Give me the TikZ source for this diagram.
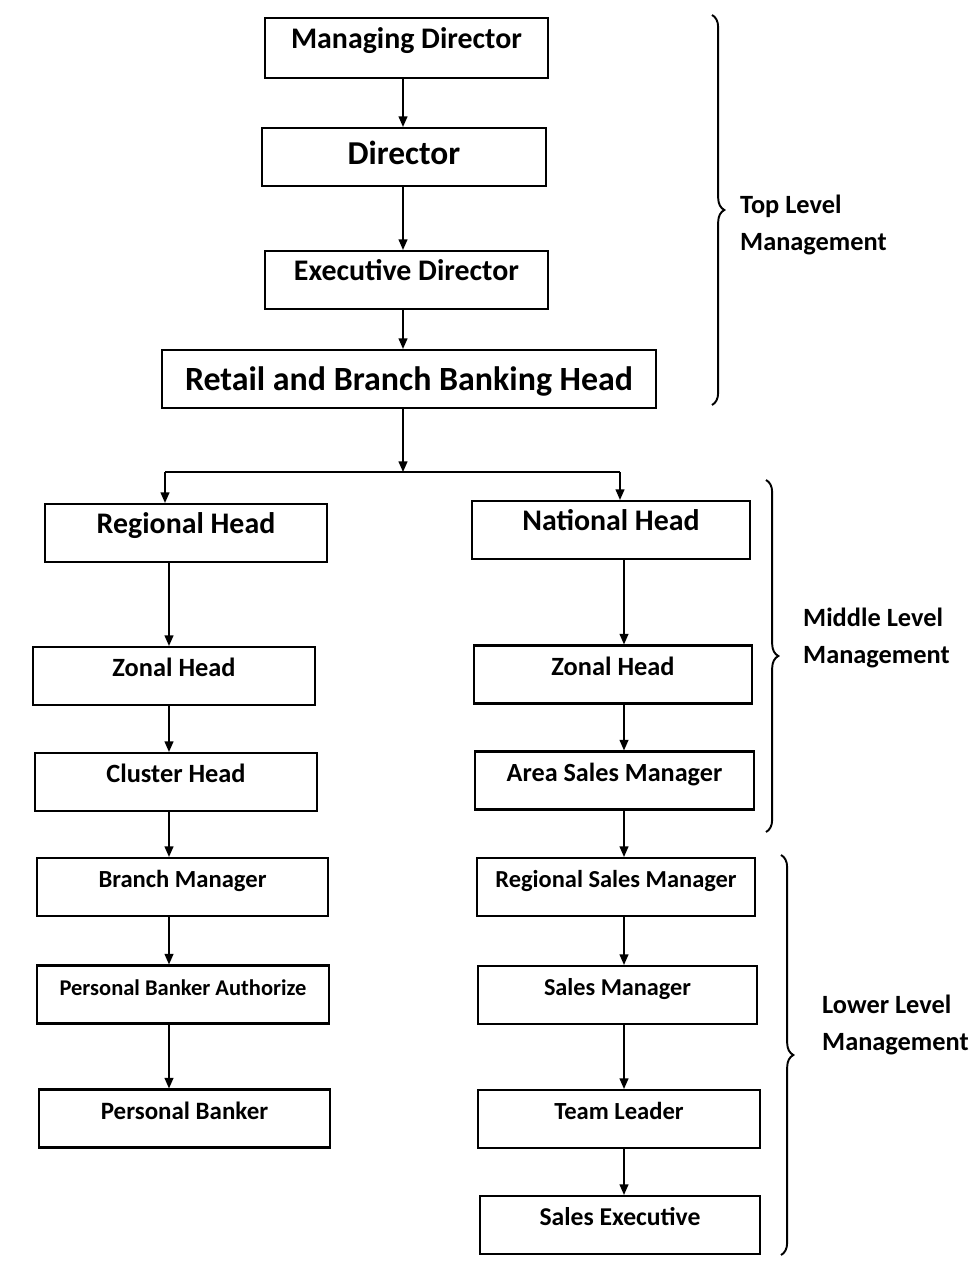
\documentclass[tikz,border=0pt]{standalone}
\usepackage{fontspec}
\setmainfont{Carlito}
\usepackage{tikz}
\usetikzlibrary{arrows.meta}
\usetikzlibrary{decorations.pathreplacing}

\newcommand{\boxfont}[1]{\fontsize{#1}{#1}\selectfont\bfseries}

\tikzset{
  post/.style={draw, line width=1.2pt, inner sep=0pt, minimum height=33pt,
    text height=17pt, text depth=16pt},
  link/.style={line width=0.9pt, -{Triangle[length=6pt,width=5pt]}},
  bar/.style={line width=1.6pt},
  levelbrace/.style={decorate, decoration={brace, amplitude=7pt}, line width=1.1pt},
  levelname/.style={anchor=west, align=left, font=\fontsize{15}{21.5}\selectfont\bfseries}
}

\begin{document}
\begin{tikzpicture}
  \useasboundingbox (0,0) rectangle (19.54,-25.38);

  % top level
  \node[post, minimum width=5.66cm, minimum height=34pt, font=\boxfont{17}] (md) at (8.13,-0.96) {Managing Director};
  \node[post, minimum width=5.68cm, text height=21pt, text depth=12pt, font=\boxfont{19}] (dir) at (8.08,-3.14) {Director};
  \node[post, minimum width=5.66cm, font=\boxfont{17}] (exd) at (8.13,-5.60) {Executive Director};
  \node[post, minimum width=9.88cm, text height=23pt, text depth=10pt, font=\boxfont{19.3}] (rbbh) at (8.18,-7.58) {Retail and Branch Banking Head};

  % left column
  \node[post, minimum width=5.64cm, font=\boxfont{17}] (rh) at (3.72,-10.66) {Regional Head};
  \node[post, minimum width=5.64cm, font=\boxfont{15}] (zl) at (3.48,-13.52) {Zonal Head};
  \node[post, minimum width=5.64cm, font=\boxfont{15}] (ch) at (3.52,-15.64) {Cluster Head};
  \node[post, minimum width=5.82cm, font=\boxfont{14}] (bm) at (3.65,-17.74) {Branch Manager};
  \node[post, minimum width=5.84cm, font=\boxfont{12.8}] (pba) at (3.66,-19.89) {Personal Banker Authorize};
  \node[post, minimum width=5.82cm, font=\boxfont{14.2}] (pb) at (3.69,-22.37) {Personal Banker};

  % right column
  \node[post, minimum width=5.56cm, font=\boxfont{17}] (nh) at (12.22,-10.60) {National Head};
  \node[post, minimum width=5.56cm, font=\boxfont{15}] (zr) at (12.26,-13.49) {Zonal Head};
  \node[post, minimum width=5.58cm, font=\boxfont{14.9}] (asm) at (12.29,-15.61) {Area Sales Manager};
  \node[post, minimum width=5.56cm, font=\boxfont{13.9}] (rsm) at (12.32,-17.74) {Regional Sales Manager};
  \node[post, minimum width=5.58cm, font=\boxfont{13.8}] (sm) at (12.35,-19.90) {Sales Manager};
  \node[post, minimum width=5.64cm, font=\boxfont{14}] (tl) at (12.38,-22.38) {Team Leader};
  \node[post, minimum width=5.60cm, font=\boxfont{14.6}] (se) at (12.40,-24.50) {Sales Executive};

  % spines and the split
  \coordinate (top) at (8.06,0);
  \coordinate (lsp) at (3.38,0);
  \coordinate (rsp) at (12.48,0);
  \coordinate (jc) at (8.06,-9.44);
  \coordinate (jl) at (3.30,-9.44);
  \coordinate (jr) at (12.40,-9.44);

  \draw[link] (md.south -| top) -- (dir.north -| top);
  \draw[link] (dir.south -| top) -- (exd.north -| top);
  \draw[link] (exd.south -| top) -- (rbbh.north -| top);
  \draw[link] (rbbh.south -| top) -- (jc);
  \draw[bar] (jl) -- (jr);
  \draw[link] (jl) -- (rh.north -| jl);
  \draw[link] (jr) -- (nh.north -| jr);

  \draw[link] (rh.south -| lsp) -- (zl.north -| lsp);
  \draw[link] (zl.south -| lsp) -- (ch.north -| lsp);
  \draw[link] (ch.south -| lsp) -- (bm.north -| lsp);
  \draw[link] (bm.south -| lsp) -- (pba.north -| lsp);
  \draw[link] (pba.south -| lsp) -- (pb.north -| lsp);

  \draw[link] (nh.south -| rsp) -- (zr.north -| rsp);
  \draw[link] (zr.south -| rsp) -- (asm.north -| rsp);
  \draw[link] (asm.south -| rsp) -- (rsm.north -| rsp);
  \draw[link] (rsm.south -| rsp) -- (sm.north -| rsp);
  \draw[link] (sm.south -| rsp) -- (tl.north -| rsp);
  \draw[link] (tl.south -| rsp) -- (se.north -| rsp);

  % management levels
  \draw[levelbrace] (14.24,-0.30) -- (14.24,-8.10);
  \node[levelname] (toplvl) at (14.68,-4.50) {Top Level\\Management};
  \draw[levelbrace] (15.32,-9.60) -- (15.32,-16.64);
  \node[levelname] (midlvl) at (15.94,-12.76) {Middle Level\\Management};
  \draw[levelbrace] (15.62,-17.10) -- (15.62,-25.10);
  \node[levelname] (lowlvl) at (16.32,-20.50) {Lower Level\\Management};
\end{tikzpicture}
\end{document}
